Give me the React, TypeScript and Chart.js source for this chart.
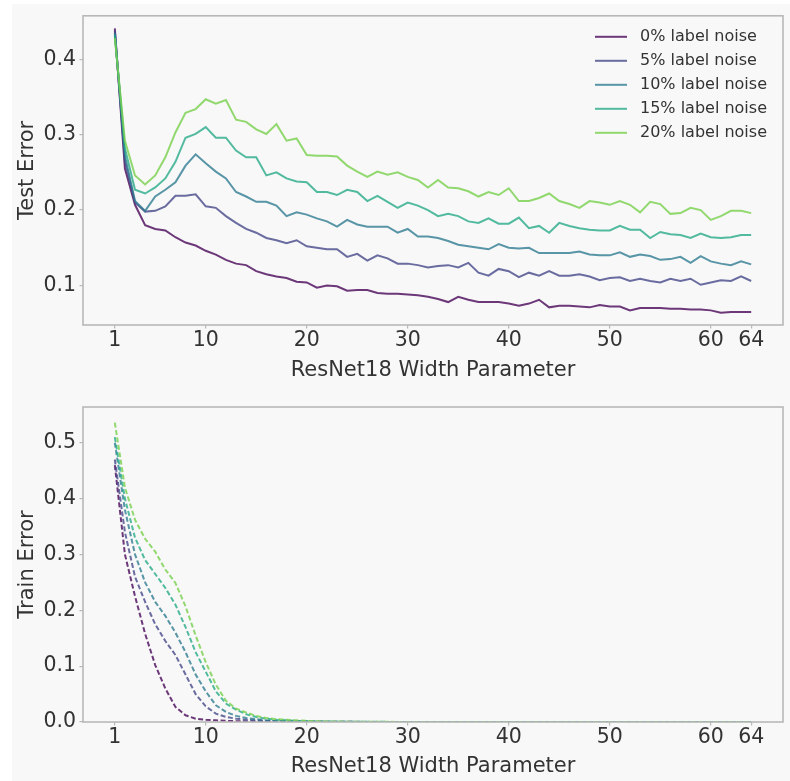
import React, { useEffect, useRef } from 'react';
import { Chart, registerables } from 'chart.js';

Chart.register(...registerables);

const widths = [1, 2, 3, 4, 5, 6, 7, 8, 9, 10, 11, 12, 13, 14, 15, 16, 17, 18, 19, 20, 21, 22, 23, 24, 25, 26, 27, 28, 29, 30, 31, 32, 33, 34, 35, 36, 37, 38, 39, 40, 41, 42, 43, 44, 45, 46, 47, 48, 49, 50, 51, 52, 53, 54, 55, 56, 57, 58, 59, 60, 61, 62, 63, 64];

const noiseLabels = ['0% label noise', '5% label noise', '10% label noise', '15% label noise', '20% label noise'];

const seriesColors = [
  'rgba(68,1,84,0.78)',
  'rgba(65,68,135,0.78)',
  'rgba(42,120,142,0.78)',
  'rgba(34,168,132,0.78)',
  'rgba(122,209,81,0.82)',
];

const test0 = [0.441, 0.255, 0.207, 0.180, 0.175, 0.173, 0.164, 0.157, 0.153, 0.146, 0.141, 0.134, 0.129, 0.127, 0.119, 0.115, 0.112, 0.110, 0.105, 0.104, 0.097, 0.100, 0.099, 0.093, 0.094, 0.094, 0.090, 0.089, 0.089, 0.088, 0.087, 0.085, 0.082, 0.078, 0.085, 0.081, 0.078, 0.078, 0.078, 0.076, 0.073, 0.076, 0.081, 0.071, 0.073, 0.073, 0.072, 0.071, 0.074, 0.072, 0.072, 0.067, 0.070, 0.070, 0.070, 0.069, 0.069, 0.068, 0.068, 0.067, 0.064, 0.065, 0.065, 0.065];
const test5 = [0.438, 0.265, 0.210, 0.198, 0.199, 0.205, 0.219, 0.219, 0.221, 0.205, 0.203, 0.192, 0.183, 0.175, 0.170, 0.163, 0.160, 0.156, 0.160, 0.152, 0.150, 0.148, 0.148, 0.138, 0.142, 0.133, 0.140, 0.136, 0.129, 0.129, 0.127, 0.124, 0.126, 0.127, 0.124, 0.130, 0.117, 0.113, 0.122, 0.119, 0.111, 0.117, 0.113, 0.119, 0.113, 0.113, 0.115, 0.112, 0.107, 0.110, 0.111, 0.106, 0.109, 0.106, 0.104, 0.109, 0.106, 0.109, 0.101, 0.104, 0.107, 0.106, 0.112, 0.106];
const test10 = [0.435, 0.272, 0.212, 0.199, 0.218, 0.227, 0.237, 0.259, 0.274, 0.262, 0.251, 0.242, 0.224, 0.218, 0.211, 0.211, 0.206, 0.192, 0.197, 0.194, 0.189, 0.185, 0.178, 0.187, 0.181, 0.178, 0.178, 0.178, 0.170, 0.175, 0.165, 0.165, 0.163, 0.159, 0.154, 0.152, 0.150, 0.148, 0.155, 0.150, 0.149, 0.150, 0.143, 0.143, 0.143, 0.143, 0.145, 0.141, 0.140, 0.140, 0.144, 0.138, 0.141, 0.139, 0.134, 0.135, 0.138, 0.130, 0.139, 0.132, 0.129, 0.127, 0.132, 0.128];
const test15 = [0.432, 0.282, 0.227, 0.222, 0.230, 0.242, 0.264, 0.296, 0.301, 0.310, 0.296, 0.296, 0.279, 0.270, 0.270, 0.246, 0.250, 0.242, 0.238, 0.237, 0.224, 0.224, 0.220, 0.227, 0.224, 0.212, 0.219, 0.211, 0.203, 0.210, 0.206, 0.200, 0.192, 0.195, 0.192, 0.185, 0.183, 0.189, 0.182, 0.182, 0.190, 0.176, 0.179, 0.170, 0.183, 0.179, 0.176, 0.174, 0.173, 0.173, 0.179, 0.174, 0.174, 0.163, 0.171, 0.168, 0.167, 0.163, 0.169, 0.164, 0.163, 0.164, 0.167, 0.167];
const test20 = [0.428, 0.292, 0.246, 0.234, 0.246, 0.270, 0.303, 0.329, 0.334, 0.347, 0.341, 0.346, 0.320, 0.317, 0.307, 0.301, 0.314, 0.292, 0.295, 0.273, 0.272, 0.272, 0.271, 0.259, 0.251, 0.244, 0.251, 0.247, 0.250, 0.244, 0.240, 0.230, 0.240, 0.230, 0.229, 0.225, 0.218, 0.224, 0.220, 0.229, 0.212, 0.212, 0.216, 0.222, 0.212, 0.208, 0.203, 0.212, 0.210, 0.207, 0.212, 0.207, 0.197, 0.211, 0.208, 0.195, 0.196, 0.203, 0.200, 0.187, 0.192, 0.199, 0.199, 0.196];

const train0 = [0.460, 0.300, 0.225, 0.158, 0.102, 0.060, 0.027, 0.012, 0.006, 0.004, 0.003, 0.002, 0.0015, 0.001, 0.001, 0.0008, 0.0006, 0.0005, 0.0004, 0.0003, 0.0003, 0.0002, 0.0002, 0.0002, 0.0001, 0.0001, 0.0001, 0.0001, 0.0001, 0.0001, 0.0001, 0.0001, 0.0001, 0.0001, 0.0001, 0.0001, 0.0001, 0.0001, 0.0001, 0.0001, 0.0001, 0.0001, 0.0001, 0.0001, 0.0001, 0.0001, 0.0001, 0.0001, 0.0001, 0.0001, 0.0001, 0.0001, 0.0001, 0.0001, 0.0001, 0.0001, 0.0001, 0.0001, 0.0001, 0.0001, 0.0001, 0.0001, 0.0001, 0.0001];
const train5 = [0.470, 0.340, 0.260, 0.215, 0.175, 0.145, 0.120, 0.085, 0.050, 0.028, 0.015, 0.009, 0.006, 0.004, 0.003, 0.002, 0.0015, 0.001, 0.0008, 0.0006, 0.0005, 0.0004, 0.0003, 0.0003, 0.0002, 0.0002, 0.0002, 0.0002, 0.0001, 0.0001, 0.0001, 0.0001, 0.0001, 0.0001, 0.0001, 0.0001, 0.0001, 0.0001, 0.0001, 0.0001, 0.0001, 0.0001, 0.0001, 0.0001, 0.0001, 0.0001, 0.0001, 0.0001, 0.0001, 0.0001, 0.0001, 0.0001, 0.0001, 0.0001, 0.0001, 0.0001, 0.0001, 0.0001, 0.0001, 0.0001, 0.0001, 0.0001, 0.0001, 0.0001];
const train10 = [0.500, 0.380, 0.300, 0.250, 0.215, 0.190, 0.160, 0.125, 0.085, 0.055, 0.030, 0.018, 0.011, 0.007, 0.005, 0.003, 0.002, 0.0015, 0.001, 0.0008, 0.0006, 0.0005, 0.0004, 0.0003, 0.0003, 0.0002, 0.0002, 0.0002, 0.0002, 0.0001, 0.0001, 0.0001, 0.0001, 0.0001, 0.0001, 0.0001, 0.0001, 0.0001, 0.0001, 0.0001, 0.0001, 0.0001, 0.0001, 0.0001, 0.0001, 0.0001, 0.0001, 0.0001, 0.0001, 0.0001, 0.0001, 0.0001, 0.0001, 0.0001, 0.0001, 0.0001, 0.0001, 0.0001, 0.0001, 0.0001, 0.0001, 0.0001, 0.0001, 0.0001];
const train15 = [0.510, 0.400, 0.330, 0.290, 0.265, 0.240, 0.210, 0.170, 0.125, 0.090, 0.055, 0.033, 0.022, 0.014, 0.009, 0.006, 0.004, 0.003, 0.002, 0.0015, 0.001, 0.0008, 0.0006, 0.0005, 0.0004, 0.0003, 0.0003, 0.0002, 0.0002, 0.0002, 0.0002, 0.0001, 0.0001, 0.0001, 0.0001, 0.0001, 0.0001, 0.0001, 0.0001, 0.0001, 0.0001, 0.0001, 0.0001, 0.0001, 0.0001, 0.0001, 0.0001, 0.0001, 0.0001, 0.0001, 0.0001, 0.0001, 0.0001, 0.0001, 0.0001, 0.0001, 0.0001, 0.0001, 0.0001, 0.0001, 0.0001, 0.0001, 0.0001, 0.0001];
const train20 = [0.536, 0.420, 0.362, 0.328, 0.305, 0.273, 0.249, 0.207, 0.155, 0.107, 0.067, 0.038, 0.024, 0.017, 0.011, 0.007, 0.005, 0.004, 0.003, 0.002, 0.0015, 0.001, 0.0008, 0.0006, 0.0005, 0.0004, 0.0003, 0.0003, 0.0002, 0.0002, 0.0002, 0.0002, 0.0001, 0.0001, 0.0001, 0.0001, 0.0001, 0.0001, 0.0001, 0.0001, 0.0001, 0.0001, 0.0001, 0.0001, 0.0001, 0.0001, 0.0001, 0.0001, 0.0001, 0.0001, 0.0001, 0.0001, 0.0001, 0.0001, 0.0001, 0.0001, 0.0001, 0.0001, 0.0001, 0.0001, 0.0001, 0.0001, 0.0001, 0.0001];

const testSeries = [test0, test5, test10, test15, test20];
const trainSeries = [train0, train5, train10, train15, train20];

const xTicks = [1, 10, 20, 30, 40, 50, 60, 64];
const testYTicks = [0.1, 0.2, 0.3, 0.4];
const trainYTicks = [0.0, 0.1, 0.2, 0.3, 0.4, 0.5];

const FONT = "'DejaVu Sans', 'Liberation Sans', sans-serif";
const TEXT_COLOR = '#333333';
const SPINE_COLOR = '#b8b8b8';

const framePlugin = {
  id: 'frame',
  afterDatasetsDraw(chart: any) {
    const { ctx, chartArea } = chart;
    ctx.save();
    ctx.strokeStyle = SPINE_COLOR;
    ctx.lineWidth = 1.6;
    ctx.strokeRect(chartArea.left, chartArea.top, chartArea.right - chartArea.left, chartArea.bottom - chartArea.top);
    ctx.restore();
  },
};

const legendPlugin = {
  id: 'insideLegend',
  afterDraw(chart: any) {
    const opts = chart.options.plugins.insideLegend;
    if (!opts || !opts.show) return;
    const { ctx, chartArea } = chart;
    ctx.save();
    ctx.font = `16px ${FONT}`;
    ctx.textBaseline = 'middle';
    ctx.textAlign = 'left';
    chart.data.datasets.forEach((ds: any, i: number) => {
      const y = chartArea.top + 21 + i * 24;
      ctx.strokeStyle = ds.borderColor;
      ctx.lineWidth = 2;
      ctx.setLineDash([]);
      ctx.beginPath();
      ctx.moveTo(chartArea.right - 188, y);
      ctx.lineTo(chartArea.right - 156, y);
      ctx.stroke();
      ctx.fillStyle = TEXT_COLOR;
      ctx.fillText(ds.label, chartArea.right - 143, y + 0.5);
    });
    ctx.restore();
  },
};

type PanelProps = {
  series: number[][];
  dashed: boolean;
  yMin: number;
  yMax: number;
  yTicks: number[];
  yTitle: string;
  height: number;
  padTop: number;
  padBottom: number;
  xScaleHeight: number;
  showLegend: boolean;
  top: number;
};

function Panel(props: PanelProps) {
  const ref = useRef<HTMLCanvasElement | null>(null);
  useEffect(() => {
    if (!ref.current) return;
    const datasets = props.series.map((vals, i) => ({
      label: noiseLabels[i],
      data: widths.map((w, j) => ({ x: w, y: vals[j] })),
      borderColor: seriesColors[i],
      backgroundColor: seriesColors[i],
      borderWidth: 2,
      borderDash: props.dashed ? [5, 2.5] : [],
      pointRadius: 0,
      tension: 0,
      fill: false,
      order: 4 - i,
    }));
    const chart = new Chart(ref.current, {
      type: 'line',
      data: { datasets },
      plugins: [framePlugin, legendPlugin],
      options: {
        animation: false,
        responsive: false,
        devicePixelRatio: 1,
        layout: { padding: { left: 0, right: 7, top: props.padTop, bottom: props.padBottom } },
        plugins: {
          legend: { display: false },
          tooltip: { enabled: false },
          insideLegend: { show: props.showLegend },
        } as any,
        scales: {
          x: {
            type: 'linear',
            min: -2.15,
            max: 67.15,
            afterBuildTicks: (scale: any) => {
              scale.ticks = xTicks.map((v) => ({ value: v }));
            },
            afterFit: (scale: any) => {
              scale.height = props.xScaleHeight;
            },
            grid: { display: true, drawOnChartArea: false, drawTicks: true, tickLength: 3.5, color: SPINE_COLOR, lineWidth: 1.2 },
            border: { display: false },
            ticks: {
              padding: 0,
              autoSkip: false,
              maxRotation: 0,
              color: TEXT_COLOR,
              font: { family: FONT, size: 20.5 },
              callback: (v: any) => String(v),
            },
            title: {
              display: true,
              text: 'ResNet18 Width Parameter',
              color: TEXT_COLOR,
              font: { family: FONT, size: 21 },
              padding: { top: 0, bottom: 0 },
            },
          },
          y: {
            type: 'linear',
            min: props.yMin,
            max: props.yMax,
            afterBuildTicks: (scale: any) => {
              scale.ticks = props.yTicks.map((v) => ({ value: v }));
            },
            afterFit: (scale: any) => {
              scale.width = 83;
            },
            grid: { display: true, drawOnChartArea: false, drawTicks: true, tickLength: 3.5, color: SPINE_COLOR, lineWidth: 1.2 },
            border: { display: false },
            ticks: {
              padding: 3.5,
              color: TEXT_COLOR,
              font: { family: FONT, size: 20.5 },
              callback: (v: any) => Number(v).toFixed(1),
            },
            title: {
              display: true,
              text: props.yTitle,
              color: TEXT_COLOR,
              font: { family: FONT, size: 21 },
              padding: { top: 15.4, bottom: 0 },
            },
          },
        },
      } as any,
    });
    return () => chart.destroy();
  }, []);
  return (
    <canvas
      ref={ref}
      width={790}
      height={props.height}
      style={{ position: 'absolute', left: 0, top: props.top, width: 790, height: props.height }}
    />
  );
}

export default function App() {
  return (
    <div style={{ position: 'absolute', left: 0, top: 0, width: 790, height: 781, background: '#ffffff', overflow: 'hidden' }}>
      <div style={{ position: 'absolute', left: 12, top: 4, width: 778, height: 777, background: '#f8f8f8' }} />
      <Panel
        series={testSeries}
        dashed={false}
        yMin={0.0476}
        yMax={0.4577}
        yTicks={testYTicks}
        yTitle="Test Error"
        height={390}
        padTop={12}
        padBottom={7}
        xScaleHeight={58}
        showLegend={true}
        top={0}
      />
      <Panel
        series={trainSeries}
        dashed={true}
        yMin={0}
        yMax={0.564}
        yTicks={trainYTicks}
        yTitle="Train Error"
        height={391}
        padTop={17}
        padBottom={2}
        xScaleHeight={57}
        showLegend={false}
        top={390}
      />
    </div>
  );
}
